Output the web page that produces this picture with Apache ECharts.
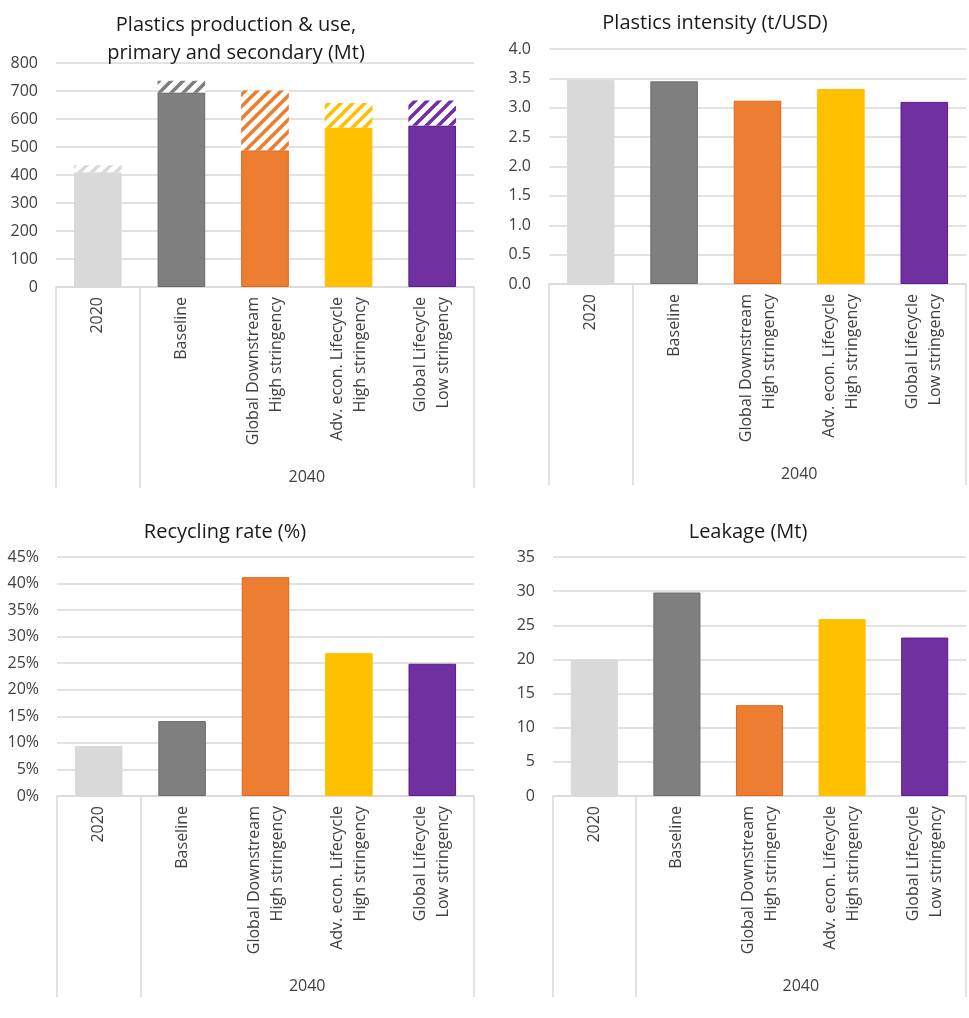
<!DOCTYPE html>
<html><head><meta charset="utf-8">
<script src="https://cdn.jsdelivr.net/npm/echarts@6/dist/echarts.min.js"></script>
<style>html,body{margin:0;padding:0;background:#fff}#c{width:969px;height:1018px}</style>
</head><body><div id="c"></div>
<script>
// ---- data ----
const categories = ['2020', 'Baseline', 'Global Downstream\nHigh stringency', 'Adv. econ. Lifecycle\nHigh stringency', 'Global Lifecycle\nLow stringency'];
const groupLabel = '2040';
const productionPrimary = [410, 695, 488, 570, 577];
const productionSecondary = [25, 42, 214, 87, 89];
const intensity = [3.47, 3.45, 3.12, 3.32, 3.10];
const recyclingRate = [9.4, 14.1, 41.2, 26.9, 24.9];
const leakage = [20.0, 29.8, 13.3, 25.9, 23.2];
const titles = ['Plastics production & use,\nprimary and secondary (Mt)', 'Plastics intensity (t/USD)', 'Recycling rate (%)', 'Leakage (Mt)'];

// ---- styles ----
const FONT = '"Open Sans", "Noto Sans", sans-serif';
const fills = ['#d9d9d9', '#7f7f7f', '#ed7d31', '#ffc000', '#7030a0'];
const borders = ['#d9d9d9', '#6b6b6b', '#e0661a', '#ffc000', '#5a1c8c'];
const GRID_C = '#d9d9d9';
const LABEL_C = '#404040';

function hatch(color) {
  const s = 12;
  const c = document.createElement('canvas');
  c.width = s; c.height = s;
  const ctx = c.getContext('2d');
  ctx.fillStyle = '#ffffff';
  ctx.fillRect(0, 0, s, s);
  ctx.strokeStyle = color;
  ctx.lineWidth = 3.6;
  ctx.beginPath();
  ctx.moveTo(-3, s + 3); ctx.lineTo(s + 3, -3);
  ctx.moveTo(-3, 3); ctx.lineTo(3, -3);
  ctx.moveTo(s - 3, s + 3); ctx.lineTo(s + 3, s - 3);
  ctx.stroke();
  return { image: c, repeat: 'repeat' };
}

const grids = [
  { left: 56, top: 63, width: 418, height: 224 },
  { left: 549, top: 49, width: 419, height: 235 },
  { left: 57, top: 557, width: 417, height: 239 },
  { left: 553, top: 557, width: 415, height: 239 }
];
const yCfg = [
  { min: 0, max: 800, interval: 100, fmt: v => String(v) },
  { min: 0, max: 4, interval: 0.5, fmt: v => v.toFixed(1) },
  { min: 0, max: 45, interval: 5, fmt: v => v + '%' },
  { min: 0, max: 35, interval: 5, fmt: v => String(v) }
];
const titlePos = [[231, 6], [710, 4], [220, 513], [743, 513]];
const groupCenter = (1 + categories.length) / 2;

const xAxes = [], yAxes = [], series = [], titleArr = [];
grids.forEach((g, i) => {
  xAxes.push({
    type: 'category', gridIndex: i, data: categories,
    axisLine: { lineStyle: { color: GRID_C, width: 1.5 } },
    axisTick: { show: true, length: 201, interval: idx => idx <= 1, lineStyle: { color: GRID_C, width: 1.5 } },
    axisLabel: { interval: 0, rotate: 90, margin: 10, fontSize: 16, lineHeight: 23, color: LABEL_C, fontFamily: FONT }
  });
  yAxes.push({
    type: 'value', gridIndex: i, min: yCfg[i].min, max: yCfg[i].max, interval: yCfg[i].interval,
    axisLine: { show: false }, axisTick: { show: false },
    splitLine: { lineStyle: { color: GRID_C, width: 1.5 } },
    axisLabel: { margin: 18, fontSize: 16, color: LABEL_C, fontFamily: FONT, formatter: yCfg[i].fmt }
  });
  titleArr.push({
    text: titles[i], left: titlePos[i][0], top: titlePos[i][1], textAlign: 'center',
    textStyle: { fontSize: 20, fontWeight: 'normal', color: '#1a1a1a', lineHeight: 28, fontFamily: FONT }
  });
});
grids.forEach((g, i) => {
  xAxes.push({
    type: 'value', gridIndex: i, min: 0, max: categories.length, interval: 1, position: 'bottom', offset: 180,
    axisLine: { show: false }, axisTick: { show: false }, splitLine: { show: false },
    axisLabel: { margin: 2, fontSize: 16, color: LABEL_C, fontFamily: FONT, formatter: v => (v === groupCenter ? groupLabel : '') }
  });
});

function solidData(vals) {
  return vals.map((v, k) => ({ value: v, itemStyle: { color: fills[k], borderColor: borders[k], borderWidth: 1 } }));
}
function hatchData(vals) {
  return vals.map((v, k) => ({ value: v, itemStyle: { color: hatch(fills[k]) } }));
}
const BW = '57%';
series.push({ type: 'bar', xAxisIndex: 0, yAxisIndex: 0, stack: 'p', barWidth: BW, data: solidData(productionPrimary), silent: true });
series.push({ type: 'bar', xAxisIndex: 0, yAxisIndex: 0, stack: 'p', barWidth: BW, data: hatchData(productionSecondary), silent: true });
series.push({ type: 'bar', xAxisIndex: 1, yAxisIndex: 1, barWidth: BW, data: solidData(intensity), silent: true });
series.push({ type: 'bar', xAxisIndex: 2, yAxisIndex: 2, barWidth: BW, data: solidData(recyclingRate), silent: true });
series.push({ type: 'bar', xAxisIndex: 3, yAxisIndex: 3, barWidth: BW, data: solidData(leakage), silent: true });

const chart = echarts.init(document.getElementById('c'), null, { renderer: 'canvas' });
chart.setOption({
  animation: false,
  backgroundColor: '#ffffff',
  title: titleArr,
  grid: grids,
  xAxis: xAxes,
  yAxis: yAxes,
  series: series
});
</script>
</body></html>
